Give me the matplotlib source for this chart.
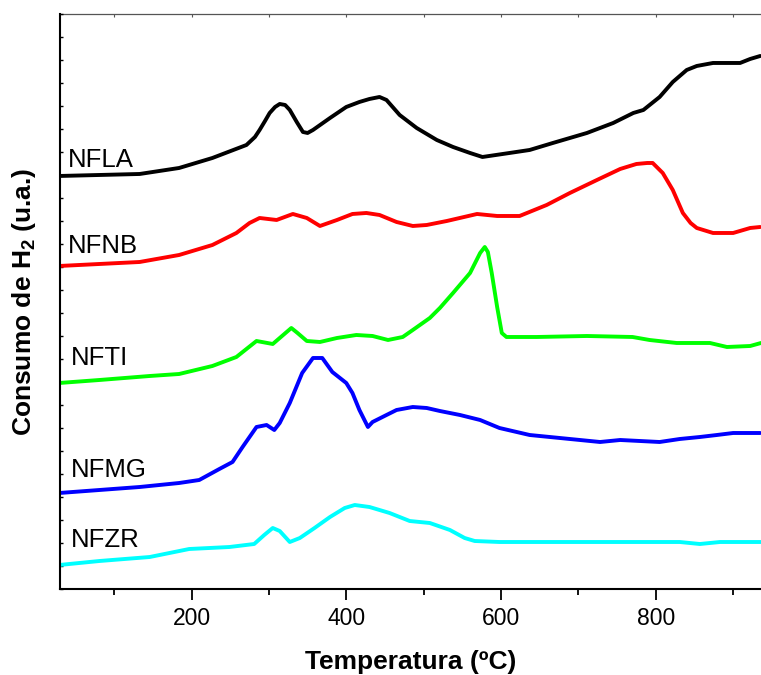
import numpy as np
import matplotlib
matplotlib.use("Agg")
import matplotlib.pyplot as plt
from matplotlib.ticker import MultipleLocator

plt.rcParams['font.family'] = ['Liberation Sans', 'DejaVu Sans']

# TPR profiles: temperature (ºC) vs. H2 consumption (arbitrary units)
t_nfla = [29, 81, 133, 184, 227, 271, 282, 288, 295, 301, 308, 314, 321, 327, 336, 344,
          350, 357, 379, 400, 417, 430, 443, 452, 469, 491, 517, 538, 560, 576, 611, 637,
          667, 711, 745, 771, 784, 805, 822, 840, 853, 874, 909, 922, 935]
h_nfla = [413, 414, 415, 421, 431, 444, 452, 459, 468, 476, 482, 485, 484, 479, 467, 457,
          456, 459, 471, 482, 487, 490, 492, 489, 474, 461, 449, 442, 436, 432, 436, 439,
          446, 456, 466, 476, 479, 492, 507, 519, 523, 526, 526, 530, 533]

t_nfnb = [29, 81, 133, 184, 227, 258, 275, 288, 310, 331, 349, 366, 388, 408, 426, 443,
          465, 486, 504, 530, 569, 595, 624, 659, 689, 724, 754, 775, 789, 796, 809, 822,
          835, 845, 853, 874, 900, 922, 935]
h_nfnb = [323, 325, 327, 334, 344, 356, 366, 371, 369, 375, 371, 363, 369, 375, 376, 374,
          367, 363, 364, 368, 375, 373, 373, 384, 396, 409, 420, 425, 426, 426, 416, 399,
          376, 366, 361, 356, 356, 361, 362]

t_nfti = [29, 81, 146, 184, 227, 258, 284, 305, 314, 329, 337, 349, 366, 388, 413, 434,
          454, 473, 486, 508, 521, 538, 560, 573, 579, 583, 588, 595, 601, 607, 646, 711,
          770, 792, 827, 870, 892, 922, 936]
h_nfti = [206, 209, 213, 215, 223, 232, 248, 245, 251, 261, 256, 248, 247, 251, 254, 253,
          249, 252, 259, 271, 281, 296, 316, 336, 342, 337, 316, 282, 256, 252, 252, 253,
          252, 249, 246, 246, 242, 243, 246]

t_nfmg = [29, 81, 133, 184, 210, 236, 253, 266, 284, 297, 307, 314, 327, 343, 357, 369,
          382, 400, 408, 417, 428, 434, 452, 465, 486, 504, 521, 547, 573, 598, 637, 676,
          728, 754, 805, 831, 857, 879, 900, 935]
h_nfmg = [96, 99, 102, 106, 109, 120, 127, 142, 162, 164, 159, 166, 186, 216, 231, 231,
          217, 206, 196, 179, 162, 167, 174, 179, 182, 181, 178, 174, 169, 161, 154, 151,
          147, 149, 147, 150, 152, 154, 156, 156]

t_nfzr = [29, 81, 146, 197, 249, 281, 294, 305, 314, 327, 340, 359, 379, 398, 411, 430,
          456, 482, 508, 534, 553, 566, 598, 728, 831, 857, 883, 936]
h_nfzr = [24, 28, 32, 40, 42, 45, 54, 61, 58, 47, 51, 61, 72, 81, 84, 82,
          76, 68, 66, 59, 51, 48, 47, 47, 47, 45, 47, 47]

samples = ["NFLA", "NFNB", "NFTI", "NFMG", "NFZR"]
colors = ["#000000", "#ff0000", "#00ff00", "#0000ff", "#00ffff"]
series = [(t_nfla, h_nfla), (t_nfnb, h_nfnb), (t_nfti, h_nfti),
          (t_nfmg, h_nfmg), (t_nfzr, h_nfzr)]
# label anchor (temperature, baseline height) for each curve name
label_pos = [(40, 422), (40, 336), (44, 224), (44, 112), (44, 42)]

fig = plt.figure(figsize=(7.61, 6.75), dpi=100)
ax = fig.add_axes([0.0788, 0.1274, 0.9212, 0.8519])

for (t, h), c in zip(series, colors):
    ax.plot(t, h, color=c, lw=2.8, solid_joinstyle='round', solid_capstyle='round')

for name, (tx, ty) in zip(samples, label_pos):
    ax.text(tx, ty, name, fontsize=18.5, va='baseline', ha='left', color='black')

ax.set_xlim(30, 936)
ax.set_ylim(0, 575)

ax.xaxis.set_major_locator(MultipleLocator(200))
ax.xaxis.set_minor_locator(MultipleLocator(100))
ax.tick_params(axis='x', which='major', direction='out', length=8, width=1.3,
               labelsize=16.5, pad=5, top=False)
ax.tick_params(axis='x', which='minor', direction='out', length=4.5, width=1.3, top=False)

ax.set_yticks(np.arange(0, 576, 23))
ax.tick_params(axis='y', which='major', direction='in', length=2.5, width=1.0,
               labelleft=False, right=False)

# short inward ticks along the top frame
top = ax.secondary_xaxis('top')
top.xaxis.set_major_locator(MultipleLocator(100))
top.tick_params(axis='x', direction='in', length=2.5, width=0.8, labeltop=False,
                color='#555555')
top.spines['top'].set_color('#555555')
top.spines['top'].set_linewidth(0.9)

ax.spines['top'].set_visible(False)
ax.spines['right'].set_visible(False)
ax.spines['left'].set_linewidth(1.5)
ax.spines['bottom'].set_linewidth(1.5)

ax.set_xlabel("Temperatura (ºC)", fontsize=19, fontweight='bold', labelpad=14)
ax.set_ylabel("Consumo de H$_\\mathregular{2}$ (u.a.)", fontsize=19, fontweight='bold',
              labelpad=16)

fig.savefig("out.png", dpi=100)
